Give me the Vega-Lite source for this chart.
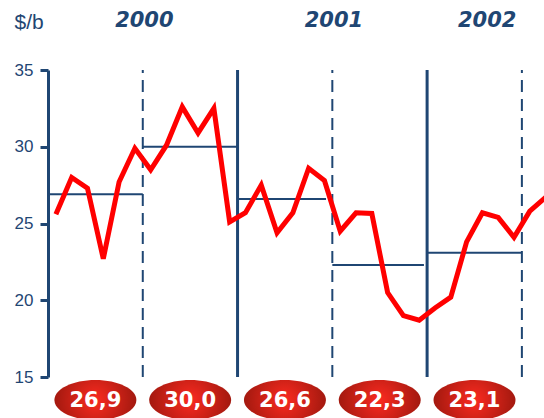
{
  "$schema": "https://vega.github.io/schema/vega-lite/v6.json",
  "width": 496,
  "height": 307,
  "autosize": "none",
  "padding": {"left": 48, "top": 70, "right": 0, "bottom": 41},
  "background": "white",
  "config": {"view": {"stroke": null}, "font": "Liberation Sans"},
  "datasets": {
    "prices": [
      {"m": 0.5, "price": 25.6}, {"m": 1.5, "price": 28.0}, {"m": 2.5, "price": 27.3},
      {"m": 3.5, "price": 22.7}, {"m": 4.5, "price": 27.7}, {"m": 5.5, "price": 29.9},
      {"m": 6.5, "price": 28.5}, {"m": 7.5, "price": 30.1}, {"m": 8.5, "price": 32.6},
      {"m": 9.5, "price": 30.9}, {"m": 10.5, "price": 32.5}, {"m": 11.5, "price": 25.1},
      {"m": 12.5, "price": 25.7}, {"m": 13.5, "price": 27.5}, {"m": 14.5, "price": 24.4},
      {"m": 15.5, "price": 25.7}, {"m": 16.5, "price": 28.6}, {"m": 17.5, "price": 27.8},
      {"m": 18.5, "price": 24.5}, {"m": 19.5, "price": 25.7}, {"m": 20.5, "price": 25.65},
      {"m": 21.5, "price": 20.5}, {"m": 22.5, "price": 19.0}, {"m": 23.5, "price": 18.7},
      {"m": 24.5, "price": 19.5}, {"m": 25.5, "price": 20.2}, {"m": 26.5, "price": 23.8},
      {"m": 27.5, "price": 25.7}, {"m": 28.5, "price": 25.4}, {"m": 29.5, "price": 24.1},
      {"m": 30.5, "price": 25.8}, {"m": 31.5, "price": 26.7}
    ],
    "halves": [
      {"start": 0, "end": 6, "mid": 3, "avg": 26.9, "label": "26,9"},
      {"start": 6, "end": 12, "mid": 9, "avg": 30.0, "label": "30,0"},
      {"start": 12, "end": 17.6, "mid": 15, "avg": 26.6, "label": "26,6"},
      {"start": 18, "end": 23.8, "mid": 21, "avg": 22.3, "label": "22,3"},
      {"start": 24, "end": 30, "mid": 27, "avg": 23.1, "label": "23,1"}
    ],
    "bounds": [
      {"m": 6, "kind": "half"}, {"m": 12, "kind": "year"}, {"m": 18, "kind": "half"},
      {"m": 24, "kind": "year"}, {"m": 30, "kind": "half"}
    ],
    "years": [
      {"year": "2000", "mid": 6.1}, {"year": "2001", "mid": 18.1}, {"year": "2002", "mid": 27.8}
    ]
  },
  "layer": [
    {
      "data": {"name": "bounds"},
      "transform": [{"filter": "datum.kind == 'year'"}],
      "mark": {"type": "rule", "color": "#1f4673", "strokeWidth": 3},
      "encoding": {
        "x": {"field": "m", "type": "quantitative", "scale": {"domain": [0, 31.4], "nice": false, "zero": false}, "axis": null},
        "y": {"datum": 15, "type": "quantitative"},
        "y2": {"datum": 35}
      }
    },
    {
      "data": {"name": "bounds"},
      "transform": [{"filter": "datum.kind == 'half'"}],
      "mark": {"type": "rule", "color": "#1f4673", "strokeWidth": 2, "strokeDash": [12, 7]},
      "encoding": {
        "x": {"field": "m", "type": "quantitative"},
        "y": {"datum": 15, "type": "quantitative"},
        "y2": {"datum": 35}
      }
    },
    {
      "data": {"name": "halves"},
      "mark": {"type": "rule", "color": "#1f4673", "strokeWidth": 2},
      "encoding": {
        "x": {"field": "start", "type": "quantitative"},
        "x2": {"field": "end"},
        "y": {"field": "avg", "type": "quantitative"}
      }
    },
    {
      "data": {"name": "prices"},
      "mark": {"type": "line", "color": "#ff0000", "strokeWidth": 5, "clip": true, "strokeJoin": "miter"},
      "encoding": {
        "x": {"field": "m", "type": "quantitative"},
        "y": {
          "field": "price", "type": "quantitative",
          "scale": {"domain": [15, 35], "nice": false, "zero": false},
          "axis": {
            "values": [15, 20, 25, 30, 35],
            "grid": false,
            "domainColor": "#1f4673", "domainWidth": 3,
            "tickColor": "#1f4673", "tickWidth": 3, "tickSize": 8,
            "labelColor": "#1f4673", "labelFontSize": 17, "labelPadding": 7,
            "labelFont": "Liberation Sans",
            "title": "$/b", "titleAngle": 0, "titleAlign": "left", "titleBaseline": "middle",
            "titleX": -34, "titleY": -48, "titleFontSize": 21, "titleFontWeight": "normal",
            "titleColor": "#1f4673", "titleFont": "Liberation Sans"
          }
        }
      }
    },
    {
      "data": {"name": "halves"},
      "mark": {
        "type": "point",
        "shape": "M-1,0A1,0.49,0,1,1,1,0A1,0.49,0,1,1,-1,0Z",
        "size": 6724,
        "filled": true,
        "opacity": 1,
        "yOffset": 23,
        "clip": false,
        "fill": {"gradient": "radial", "stops": [{"offset": 0, "color": "#fa2a20"}, {"offset": 1, "color": "#a3190f"}]},
        "strokeWidth": 0
      },
      "encoding": {
        "x": {"field": "mid", "type": "quantitative"},
        "y": {"value": "height"}
      }
    },
    {
      "data": {"name": "halves"},
      "mark": {"type": "text", "color": "white", "fontSize": 21, "fontWeight": "bold", "font": "DejaVu Sans", "baseline": "middle", "align": "center", "yOffset": 24},
      "encoding": {
        "x": {"field": "mid", "type": "quantitative"},
        "y": {"value": "height"},
        "text": {"field": "label"}
      }
    },
    {
      "data": {"name": "years"},
      "mark": {"type": "text", "color": "#1f4673", "fontSize": 21, "fontWeight": "bold", "fontStyle": "italic", "font": "DejaVu Sans", "baseline": "middle", "align": "center", "yOffset": -49},
      "encoding": {
        "x": {"field": "mid", "type": "quantitative"},
        "y": {"value": 0},
        "text": {"field": "year"}
      }
    }
  ]
}
